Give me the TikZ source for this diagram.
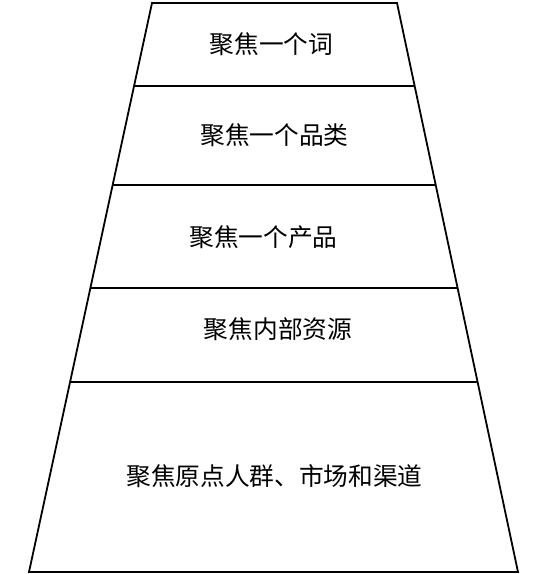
\documentclass[tikz,border=0pt]{standalone}
\usepackage{fontspec}
\newfontfamily\cjk{Noto Sans CJK SC}
\begin{document}
\begin{tikzpicture}[x=1pt,y=-1pt,
  edge/.style={draw=black,line width=1.8pt,line join=miter},
  divider/.style={draw=black,line width=1.6pt},
  label/.style={font=\cjk\fontsize{24.7}{29}\selectfont,inner sep=0pt,anchor=center}]
\useasboundingbox (0,0) rectangle (550,574);
\coordinate (tl) at (152,3);
\coordinate (tr) at (397,3);
\coordinate (br) at (518,572);
\coordinate (bl) at (29,572);
\draw[edge] (tl) -- (tr) -- (br) -- (bl) -- cycle;
\coordinate (d1l) at (134.1,86);  \coordinate (d1r) at (414.7,86);
\coordinate (d2l) at (112.7,185); \coordinate (d2r) at (435.7,185);
\coordinate (d3l) at (90.4,288);  \coordinate (d3r) at (457.6,288);
\coordinate (d4l) at (70.1,382);  \coordinate (d4r) at (477.6,382);
\draw[divider] (d1l) -- (d1r);
\draw[divider] (d2l) -- (d2r);
\draw[divider] (d3l) -- (d3r);
\draw[divider] (d4l) -- (d4r);
\node[label] (t1) at (271.5,44) {聚焦一个词};
\node[label] (t2) at (274.5,135) {聚焦一个品类};
\node[label] (t3) at (263.5,237) {聚焦一个产品};
\node[label] (t4) at (278,329) {聚焦内部资源};
\node[label] (t5) at (274.5,476) {聚焦原点人群、市场和渠道};
\end{tikzpicture}
\end{document}
